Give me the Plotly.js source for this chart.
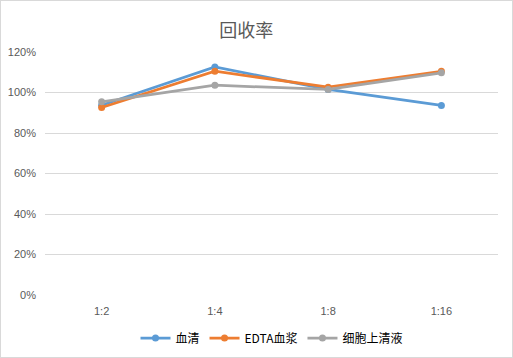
<!DOCTYPE html>
<html>
<head>
<meta charset="utf-8">
<script src="https://cdn.plot.ly/plotly-3.0.1.min.js"></script>
<style>
html,body{margin:0;padding:0;background:#fff;}
#wrap{position:relative;width:513px;height:358px;}
#chart{width:513px;height:358px;}
#frame{position:absolute;left:0;top:0;width:511px;height:356px;border:1px solid #d9d9d9;pointer-events:none;}
</style>
</head>
<body>
<div id="wrap"><div id="chart"></div><div id="frame"></div></div>
<script>
var categories = ['1:2', '1:4', '1:8', '1:16'];
var serum = [0.937, 1.126, 1.015, 0.936];
var edtaPlasma = [0.926, 1.105, 1.026, 1.105];
var cellSupernatant = [0.954, 1.036, 1.015, 1.097];
var seriesNames = ['血清', 'EDTA血浆', '细胞上清液'];
var tickVals = [0, 0.2, 0.4, 0.6, 0.8, 1.0, 1.2];
var tickText = ['0%', '20%', '40%', '60%', '80%', '100%', '120%'];

var colors = ['#5B9BD5', '#ED7D31', '#A5A5A5'];
var data = [serum, edtaPlasma, cellSupernatant].map(function(vals, i){
  return {
    x: categories, y: vals, name: seriesNames[i], type: 'scatter', mode: 'lines+markers',
    line: {color: colors[i], width: 2.75},
    marker: {color: colors[i], size: 7}
  };
});

var font = 'Liberation Sans, Noto Sans CJK SC, sans-serif';
var layout = {
  width: 513, height: 358,
  margin: {l: 45, r: 15, t: 51.5, b: 63, autoexpand: false},
  paper_bgcolor: '#fff', plot_bgcolor: '#fff',
  font: {family: font, color: '#595959', size: 11},
  title: {text: '回收率', font: {family: 'Noto Sans CJK SC, sans-serif', size: 18, color: '#595959'}, xref: 'container', x: 0.48, xanchor: 'center', y: 0.915, yanchor: 'middle'},
  xaxis: {type: 'category', range: [-0.5, 3.5], showgrid: false, zeroline: false, showline: false, ticks: '', tickfont: {size: 11, color: '#595959'}, ticklabelstandoff: 8, automargin: false},
  yaxis: {range: [0, 1.2], tickvals: tickVals, ticktext: tickText, showgrid: true, gridcolor: '#D9D9D9', gridwidth: 1, zeroline: false, showline: false, ticks: '', tickfont: {size: 11, color: '#595959'}, ticklabelstandoff: 8, automargin: false},
  legend: {orientation: 'h', x: 0.5, xanchor: 'center', y: -0.177, yanchor: 'middle', font: {size: 12, color: '#000', family: 'Noto Sans CJK SC, sans-serif'}, itemwidth: 30, tracegroupgap: 0},
  showlegend: true
};
Plotly.newPlot('chart', data, layout, {displayModeBar: false, staticPlot: true});
</script>
</body>
</html>
